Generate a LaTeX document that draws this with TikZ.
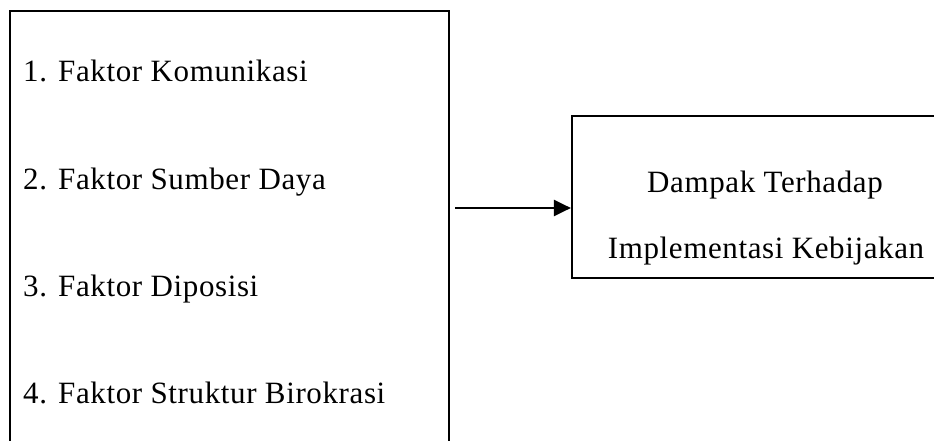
\documentclass[tikz,border=0pt]{standalone}
\usepackage{fontspec}
\setmainfont{Liberation Serif}[LetterSpace=2]
\usetikzlibrary{arrows.meta}
\tikzset{
  frame/.style={draw, line width=2.2pt, rectangle, inner sep=0pt},
  item/.style={anchor=base west, inner sep=0pt, font=\fontsize{31}{33}\selectfont},
  ritem/.style={anchor=base, inner sep=0pt, font=\fontsize{31}{33}\selectfont},
  conn/.style={line width=2.2pt, -{Triangle[length=17pt,width=16pt]}}
}
\begin{document}
\begin{tikzpicture}[x=1pt,y=-1pt]
\clip (0,0) rectangle (934,441);
\fill[white] (0,0) rectangle (934,441);
\node[frame, minimum width=439pt, minimum height=480pt] (left) at (229.5,251) {};
\node[frame, minimum width=420pt, minimum height=162pt] (right) at (782,197) {};
\node[item] (i1) at (23,82) {1. Faktor Komunikasi};
\node[item] (i2) at (23,189) {2. Faktor Sumber Daya};
\node[item] (i3) at (23,296) {3. Faktor Diposisi};
\node[item] (i4) at (23,403) {4. Faktor Struktur Birokrasi};
\node[ritem] (r1) at (765,192) {Dampak Terhadap};
\node[ritem] (r2) at (766,258) {Implementasi Kebijakan};
\coordinate (a0) at (455,208);
\draw[conn] (a0) -- (a0 -| right.west);
\end{tikzpicture}
\end{document}
